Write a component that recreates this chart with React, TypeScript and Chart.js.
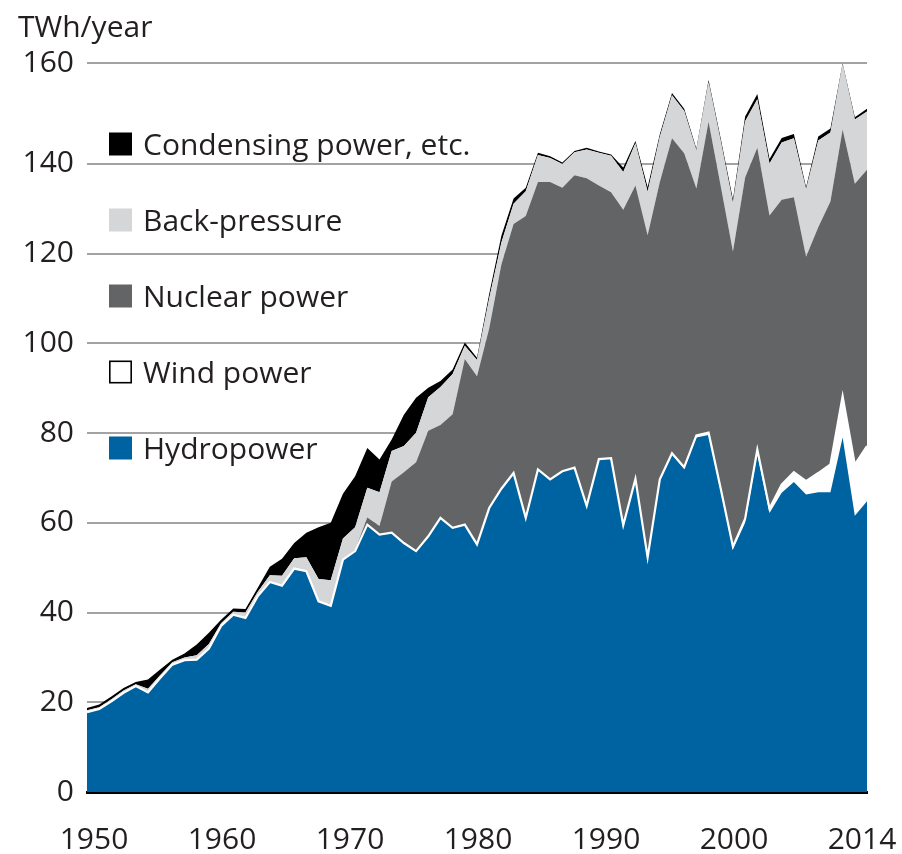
import React, { useEffect, useRef } from 'react';
import { Chart, registerables } from 'chart.js';

Chart.register(...registerables);

// ---------- data ----------
const years = [
  1950, 1951, 1952, 1953, 1954, 1955, 1956, 1957, 1958, 1959,
  1960, 1961, 1962, 1963, 1964, 1965, 1966, 1967, 1968, 1969,
  1970, 1971, 1972, 1973, 1974, 1975, 1976, 1977, 1978, 1979,
  1980, 1981, 1982, 1983, 1984, 1985, 1986, 1987, 1988, 1989,
  1990, 1991, 1992, 1993, 1994, 1995, 1996, 1997, 1998, 1999,
  2000, 2001, 2002, 2003, 2004, 2005, 2006, 2007, 2008, 2009,
  2010, 2011, 2012, 2013, 2014,
];

const hydropower = [
  17.8, 18.5, 20.2, 22.1, 23.6, 22.2, 25.4, 28.4, 29.4, 29.5,
  32.0, 37.0, 39.5, 38.8, 43.6, 46.8, 46.0, 49.8, 49.2, 42.5,
  41.5, 51.8, 53.7, 59.6, 57.4, 57.8, 55.5, 53.7, 57.0, 61.1,
  58.9, 59.6, 55.2, 63.3, 67.6, 71.1, 61.1, 71.9, 69.7, 71.5,
  72.3, 63.7, 74.1, 74.3, 59.4, 69.7, 52.2, 69.5, 75.2, 72.0,
  79.0, 79.6, 67.0, 54.1, 60.0, 75.4, 62.2, 66.7, 69.1, 66.3,
  66.8, 66.8, 79.0, 61.6, 64.8,
];

const windPower = [
  0, 0, 0, 0, 0, 0, 0, 0, 0, 0,
  0, 0, 0, 0, 0, 0, 0, 0, 0, 0,
  0, 0, 0, 0, 0, 0, 0, 0, 0, 0,
  0, 0, 0, 0, 0, 0, 0, 0, 0, 0,
  0, 0.1, 0.1, 0.1, 0.1, 0.1, 0.1, 0.2, 0.3, 0.4,
  0.5, 0.5, 0.6, 0.6, 0.9, 0.9, 1.0, 1.8, 2.2, 3.0,
  4.3, 6.2, 9.2, 11.4, 12.3,
];

const nuclearPower = [
  0, 0, 0, 0, 0, 0, 0, 0, 0, 0,
  0, 0, 0, 0, 0, 0, 0, 0, 0, 0,
  0, 0, 0.3, 1.6, 1.9, 11.4, 15.8, 19.8, 23.5, 20.7,
  25.3, 36.9, 37.5, 40.0, 50.0, 55.5, 67.3, 64.1, 66.3, 63.2,
  65.2, 73.0, 61.0, 59.3, 70.3, 65.4, 71.8, 66.3, 70.2, 70.0,
  55.0, 69.3, 67.4, 65.8, 76.1, 67.3, 65.3, 63.5, 61.3, 50.0,
  54.8, 58.6, 59.5, 62.6, 61.6,
];

const backPressure = [
  0.4, 0.4, 0.5, 0.5, 0.4, 0.8, 0.6, 0.5, 0.6, 1.0,
  1.0, 0.6, 0.7, 1.2, 1.0, 1.5, 2.2, 2.3, 3.1, 5.0,
  5.7, 4.7, 5.0, 6.6, 7.5, 6.8, 5.8, 6.6, 7.5, 8.5,
  9.0, 3.0, 3.6, 6.7, 4.9, 4.5, 5.5, 6.0, 5.3, 5.3,
  5.1, 6.4, 7.3, 8.1, 8.4, 9.4, 9.7, 10.0, 9.6, 9.4,
  8.5, 8.8, 10.0, 10.8, 12.5, 10.8, 11.6, 12.8, 13.1, 15.0,
  19.3, 15.4, 14.4, 14.3, 13.0,
];

const condensingPower = [
  0.5, 0.6, 0.6, 0.6, 0.5, 2.1, 1.3, 0.6, 0.9, 2.4,
  2.5, 0.8, 0.7, 0.8, 0.9, 1.9, 3.8, 3.4, 5.5, 11.5,
  12.8, 10.0, 11.4, 8.9, 7.3, 2.6, 7.0, 7.8, 2.1, 1.3,
  1.0, 0.7, 0.5, 1.0, 1.5, 1.2, 0.8, 0.5, 0.4, 0.3,
  0.3, 0.4, 0.3, 0.3, 1.0, 0.5, 1.0, 0.6, 0.5, 0.5,
  0.4, 0.5, 0.6, 0.8, 1.1, 1.2, 1.0, 1.0, 1.0, 0.5,
  0.9, 0.9, 0.3, 0.5, 0.6,
];

const seriesLabels = [
  'Hydropower',
  'Wind power',
  'Nuclear power',
  'Back-pressure',
  'Condensing power, etc.',
];

const yTickValues = [0, 20, 40, 60, 80, 100, 120, 140, 162.5];
const yTickLabels = ['0', '20', '40', '60', '80', '100', '120', '140', '160'];
const xTickLabels = ['1950', '1960', '1970', '1980', '1990', '2000', '2014'];
const unitLabel = 'TWh/year';

// ---------- styling ----------
const FONT = '"Open Sans", "DejaVu Sans", sans-serif';
const TEXT_COLOR = '#231f20';
const COLORS = {
  hydro: '#0063a1',
  wind: '#ffffff',
  nuclear: '#636466',
  back: '#d5d6d8',
  cond: '#000000',
};

const overlayPlugin = {
  id: 'overlayText',
  afterDraw(chart: any) {
    const ctx = chart.ctx as CanvasRenderingContext2D;
    ctx.save();
    ctx.font = `30px ${FONT}`;
    ctx.fillStyle = TEXT_COLOR;
    ctx.textAlign = 'left';
    ctx.textBaseline = 'alphabetic';
    ctx.fillText(unitLabel, 18, 37);

    // legend: reverse stacking order, top to bottom
    const order = [4, 3, 2, 1, 0];
    const boxSize = 23;
    order.forEach((dsIndex, i) => {
      const ds = chart.data.datasets[dsIndex];
      const cy = 144 + i * 76;
      const bx = 109;
      const by = cy - boxSize / 2;
      if (dsIndex === 1) {
        ctx.fillStyle = '#ffffff';
        ctx.fillRect(bx, by, boxSize, boxSize);
        ctx.strokeStyle = '#000000';
        ctx.lineWidth = 1.6;
        ctx.strokeRect(bx + 0.8, by + 0.8, boxSize - 1.6, boxSize - 1.6);
      } else {
        ctx.fillStyle = ds.backgroundColor;
        ctx.fillRect(bx, by, boxSize, boxSize);
      }
      ctx.fillStyle = TEXT_COLOR;
      ctx.fillText(ds.label, 143, cy + 11);
    });
    ctx.restore();
  },
};

export default function App() {
  const canvasRef = useRef<HTMLCanvasElement | null>(null);

  useEffect(() => {
    if (!canvasRef.current) return;
    const mk = (label: string, data: number[], color: string, fill: any, extra: any = {}) => ({
      label,
      data,
      backgroundColor: color,
      borderColor: color,
      borderWidth: 0,
      pointRadius: 0,
      tension: 0,
      fill,
      ...extra,
    });

    const chart = new Chart(canvasRef.current, {
      type: 'line',
      data: {
        labels: years,
        datasets: [
          mk(seriesLabels[0], hydropower, COLORS.hydro, 'origin'),
          mk(seriesLabels[1], windPower, COLORS.wind, '-1', { borderColor: '#ffffff', borderWidth: 2.2 }),
          mk(seriesLabels[2], nuclearPower, COLORS.nuclear, '-1'),
          mk(seriesLabels[3], backPressure, COLORS.back, '-1'),
          mk(seriesLabels[4], condensingPower, COLORS.cond, '-1'),
        ],
      },
      options: {
        responsive: false,
        animation: false,
        events: [],
        layout: { padding: { left: 0, right: 35, top: 63, bottom: 0 } },
        plugins: {
          legend: { display: false },
          tooltip: { enabled: false },
          filler: { drawTime: 'beforeDatasetsDraw' },
        },
        scales: {
          x: {
            type: 'linear',
            display: false,
            min: 1950,
            max: 2014,
          },
          xLabels: {
            type: 'linear',
            position: 'bottom',
            min: -7 / 128,
            max: 773 / 128,
            z: 1,
            grid: { display: false, drawTicks: false },
            border: { display: true, color: '#000000', width: 3 },
            afterBuildTicks: (scale: any) => {
              scale.ticks = xTickLabels.map((_, i) => ({ value: i }));
            },
            afterFit: (scale: any) => {
              scale.height = 62;
              scale.paddingLeft = 0;
              scale.paddingRight = 0;
            },
            ticks: {
              autoSkip: false,
              maxRotation: 0,
              padding: 30,
              color: TEXT_COLOR,
              font: { family: FONT, size: 30 },
              callback: (_v: any, i: number) => xTickLabels[i],
            },
          },
          y: {
            type: 'linear',
            stacked: true,
            min: 0,
            max: 162.5,
            z: 1,
            border: { display: false },
            grid: {
              drawTicks: false,
              lineWidth: 2,
              color: (c: any) => (c.tick && c.tick.value === 0 ? 'rgba(0,0,0,0)' : '#a3a3a3'),
            },
            afterBuildTicks: (scale: any) => {
              scale.ticks = yTickValues.map((v) => ({ value: v }));
            },
            afterFit: (scale: any) => {
              scale.width = 87;
              scale.paddingTop = 0;
              scale.paddingBottom = 0;
            },
            ticks: {
              padding: 13,
              color: TEXT_COLOR,
              font: { family: FONT, size: 30 },
              callback: (_v: any, i: number) => yTickLabels[i],
            },
          },
        },
      } as any,
      plugins: [overlayPlugin],
    });
    return () => chart.destroy();
  }, []);

  return (
    <canvas
      ref={canvasRef}
      width={902}
      height={854}
      style={{ position: 'absolute', left: 0, top: 0, width: 902, height: 854 }}
    />
  );
}
